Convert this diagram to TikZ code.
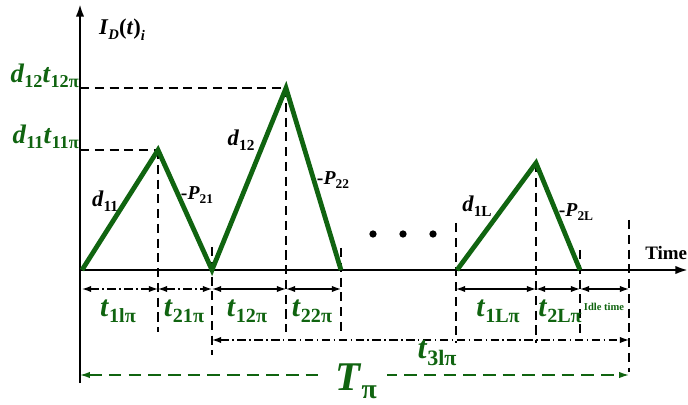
\documentclass[tikz,border=0pt]{standalone}
\usepackage{fontspec}
\setmainfont{Liberation Serif}
\usepackage{graphicx}
\usetikzlibrary{arrows.meta}
\definecolor{dgreen}{RGB}{16,100,16}
\newcommand{\fs}[1]{\fontsize{#1}{#1}\selectfont}
\newcommand{\lb}[2]{\textbf{\textit{#1}}\raisebox{-0.45ex}{\scalebox{0.68}{\textbf{#2}}}}
\begin{document}
\begin{tikzpicture}[x=0.025cm,y=-0.025cm,
  axis/.style={line width=1.6pt,-{Latex[length=9pt,width=6pt]}},
  wave/.style={dgreen,line width=3.4pt,line join=miter,line cap=butt},
  guide/.style={black,line width=0.8pt,dash pattern=on 6.5pt off 4pt},
  dimarrow/.style={line width=0.9pt,{Latex[length=6.5pt,width=4.5pt]}-{Latex[length=6.5pt,width=4.5pt]}},
  dimdot/.style={dimarrow,dash pattern=on 6pt off 2.5pt on 1pt off 2.5pt},
  tot/.style={dgreen,line width=1pt,dash pattern=on 9pt off 5pt,{Latex[length=7pt,width=4.5pt]}-{Latex[length=7pt,width=4.5pt]}},
  glbl/.style={dgreen,inner sep=0pt},
  blbl/.style={black,inner sep=0pt}]
\useasboundingbox (0,0) rectangle (688,405);
% key points
\coordinate (ybot) at (80,383);
\coordinate (ytop) at (80,4);
\coordinate (xl) at (80,270);
\coordinate (xr) at (688,270);
\coordinate (a0) at (82,270);
\coordinate (p1) at (158,150);
\coordinate (a1) at (212,270);
\coordinate (p2) at (286,88);
\coordinate (a2) at (341,270);
\coordinate (a3) at (457,270);
\coordinate (p3) at (536,163);
\coordinate (a4) at (580,270);
\coordinate (h11) at (80,150);
\coordinate (h12) at (80,88);
% guide line ends
\coordinate (g1) at (158,332);
\coordinate (g2t) at (212,247);
\coordinate (g2) at (212,355);
\coordinate (g3) at (286,332);
\coordinate (g4t) at (341,248);
\coordinate (g4) at (341,334);
\coordinate (g5t) at (456,223);
\coordinate (g5) at (456,343);
\coordinate (g6) at (536,343);
\coordinate (g7t) at (580,250);
\coordinate (g7) at (580,335);
\coordinate (g8t) at (629,220);
\coordinate (g8) at (629,372);
% guides
\draw[guide] (h12) -- (p2);
\draw[guide] (h11) -- (p1);
\draw[guide] (p1) -- (g1);
\draw[guide] (g2t) -- (g2);
\draw[guide] (p2) -- (g3);
\draw[guide] (g4t) -- (g4);
\draw[guide] (g5t) -- (g5);
\draw[guide] (p3) -- (g6);
\draw[guide] (g7t) -- (g7);
\draw[guide] (g8t) -- (g8);
% axes
\draw[axis] (ybot) -- (ytop);
\draw[axis] (xl) -- (xr);
% waveform
\draw[wave] (a0) -- (p1) -- (a1) -- (p2) -- (a2);
\draw[wave] (a3) -- (p3) -- (a4);
% dimension arrows
\coordinate (d0) at (82,289);
\coordinate (d1) at (158,289);
\coordinate (d2) at (212,289);
\coordinate (d3) at (286,289);
\coordinate (d4) at (341,289);
\coordinate (d5) at (456,289);
\coordinate (d6) at (536,289);
\coordinate (d7) at (580,289);
\coordinate (d8) at (629,289);
\draw[dimdot] (d0) -- (d1);
\draw[dimdot] (d1) -- (d2);
\draw[dimarrow] (d2) -- (d3);
\draw[dimarrow] (d3) -- (d4);
\draw[dimarrow] (d5) -- (d6);
\draw[dimarrow] (d6) -- (d7);
\draw[dimarrow] (d7) -- (d8);
\coordinate (t3l) at (212,340);
\coordinate (t3r) at (629,340);
\draw[dimdot] (t3l) -- (t3r);
\coordinate (Tl) at (80,375);
\coordinate (Tr) at (629,375);
\draw[tot] (Tl) -- (Tr);
% dots
\foreach \x/\n in {373/1,403/2,433/3} \fill (\x,234) circle (2.6pt) coordinate (dot\n);
% labels
\node[blbl] (ylab) at (122,30) {\fs{16}\textbf{\textit{I}}\raisebox{-0.5ex}{\scalebox{0.65}{\textbf{\textit{D}}}}\textbf{(\textit{t})}\raisebox{-0.6ex}{\scalebox{0.65}{\textbf{\textit{i}}}}};
\node[blbl,anchor=west] (xlab) at (645,253) {\fs{13.5}\textbf{Time}};
\node[glbl,anchor=east] (h12lab) at (79,76) {\fs{19}\lb{d}{12}\lb{t}{12π}};
\node[glbl,anchor=east] (h11lab) at (79,137) {\fs{19}\lb{d}{11}\lb{t}{11π}};
\node[blbl] (s11) at (105,201) {\fs{16}\lb{d}{11}};
\node[blbl] (s21) at (197,195) {\fs{14}\textbf{-}\lb{P}{21}};
\node[blbl] (s12) at (241,140) {\fs{16}\lb{d}{12}};
\node[blbl] (s22) at (333,180) {\fs{14}\textbf{-}\lb{P}{22}};
\node[blbl] (s1L) at (477,206) {\fs{16}\lb{d}{1L}};
\node[blbl] (s2L) at (576,212) {\fs{14}\textbf{-}\lb{P}{2L}};
\node[glbl] (t11) at (118,311) {\fs{21}\lb{t}{1lπ}};
\node[glbl] (t21) at (184,311) {\fs{21}\lb{t}{21π}};
\node[glbl] (t12) at (247,311) {\fs{21}\lb{t}{12π}};
\node[glbl] (t22) at (312,311) {\fs{21}\lb{t}{22π}};
\node[glbl] (t1L) at (498,311) {\fs{21}\lb{t}{1Lπ}};
\node[glbl] (t2L) at (560,311) {\fs{21}\lb{t}{2Lπ}};
\node[glbl] (idle) at (604,307) {\fs{7.5}\textbf{Idle time}};
\node[glbl] (t3) at (437,353) {\fs{23}\lb{t}{3lπ}};
\node[glbl,fill=white,inner xsep=7pt] (Tp) at (356,381) {\fs{29}\lb{T}{π}};
\end{tikzpicture}
\end{document}
